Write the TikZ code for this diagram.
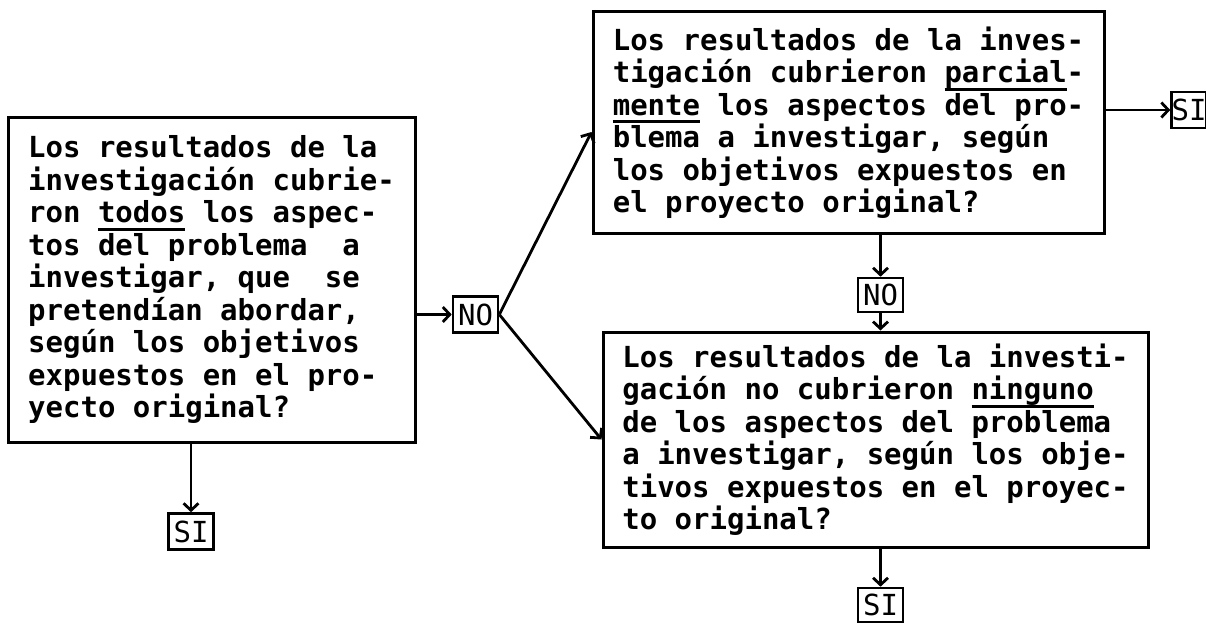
\documentclass[tikz,border=0pt]{standalone}
\usepackage{fontspec}
\setmonofont{DejaVu Sans Mono}
\usetikzlibrary{arrows.meta}

\newcommand{\subraya}[1]{\setbox0\hbox{#1}\rlap{\rule[-8pt]{\wd0}{2.6pt}}\box0\relax}

\begin{document}
\begin{tikzpicture}[x=1pt,y=-1pt,
    caja/.style={draw, line width=3pt, align=left, inner sep=0pt,
      font=\ttfamily\bfseries\fontsize{29}{32.5}\selectfont},
    resp/.style={draw, line width=2.6pt, inner sep=0pt,
      minimum width=45pt, minimum height=36pt,
      font=\ttfamily\fontsize{29}{29}\selectfont},
    flecha/.style={line width=2.8pt, -{Straight Barb[length=7pt,width=15pt]}}]
  \useasboundingbox (0,0) rectangle (1206,626);

  % ---- preguntas ----------------------------------
  \node[caja, minimum width=407pt, minimum height=325pt] (p1) at (211.5,279.5)
    {Los resultados de la\\
     investigación cubrie-\\
     ron \subraya{todos} los aspec-\\
     tos del problema~~a\\
     investigar, que~~se\\
     pretendían abordar,\\
     según los objetivos\\
     expuestos en el pro-\\
     yecto original?};
  \node[caja, minimum width=511pt, minimum height=221pt] (p2) at (848.5,122.5)
    {Los resultados de la inves-\\
     tigación cubrieron \subraya{parcial}-\\
     \subraya{mente} los aspectos del pro-\\
     blema a investigar, según\\
     los objetivos expuestos en\\
     el proyecto original?};
  \node[caja, minimum width=545pt, minimum height=215pt] (p3) at (875.5,439.5)
    {Los resultados de la investi-\\
     gación no cubrieron \subraya{ninguno}\\
     de los aspectos del problema\\
     a investigar, según los obje-\\
     tivos expuestos en el proyec-\\
     to original?};

  % ---- respuestas ---------------------------------
  \node[resp] (no1) at (475.5,314.5) {NO};
  \node[resp] (si1) at (191,531.5) {SI};
  \node[resp, minimum height=34pt] (no2) at (880.5,295) {NO};
  \node[resp, minimum width=34pt] (si2) at (1189,110) {SI};
  \node[resp, minimum height=34pt] (si3) at (880.5,605) {SI};

  % ---- flechas ------------------------------------
  \draw[flecha] (p1.east |- no1.west) -- (no1.west);
  \draw[flecha] (si1 |- p1.south) -- (si1.north);
  \draw[flecha] (no1.east) -- ([yshift=-9.5pt]p2.west);
  \draw[flecha] (no1.east) -- (p3.west);
  \draw[flecha] (p2.east |- si2.west) -- (si2.west);
  \draw[flecha] (no2 |- p2.south) -- (no2.north);
  \draw[flecha] (no2.south) -- (no2 |- p3.north);
  \draw[flecha] (si3 |- p3.south) -- (si3.north);
\end{tikzpicture}
\end{document}
